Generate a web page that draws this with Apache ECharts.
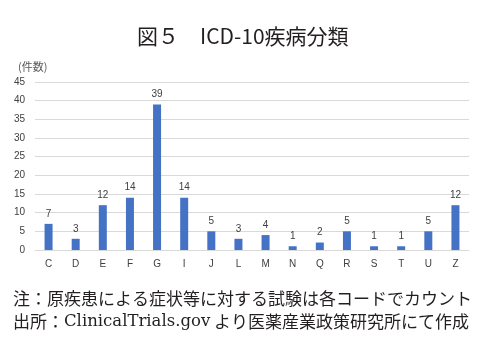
<!DOCTYPE html>
<html><head><meta charset="utf-8">
<script src="https://cdn.jsdelivr.net/npm/echarts@6/dist/echarts.min.js"></script>
<style>html,body{margin:0;padding:0;background:#fff}#c{width:500px;height:353px}</style>
</head><body><div id="c"></div>
<script>
const categories = ['C','D','E','F','G','I','J','L','M','N','Q','R','S','T','U','Z'];
const counts = [7,3,12,14,39,14,5,3,4,1,2,5,1,1,5,12];
const yTicks = [0,5,10,15,20,25,30,35,40,45];
const titleText = '図５　ICD-10疾病分類';
const unitText = '(件数)';
const noteLines = ['注：原疾患による症状等に対する試験は各コードでカウント', '出所：ClinicalTrials.gov より医薬産業政策研究所にて作成'];

const latin = 'ClinicalTrials.gov';
const line2Rich = noteLines[1].replace(latin, '{lat|' + latin + '}');

const chart = echarts.init(document.getElementById('c'), null, {renderer:'canvas'});
chart.setOption({
  animation:false,
  backgroundColor:'#fff',
  title:[{text:titleText, left:132, top:21, textStyle:{fontFamily:'Noto Sans CJK JP', fontSize:21, fontWeight:'normal', color:'#231f20'}}],
  graphic:[
    {type:'text', left:18, top:61, style:{text:unitText, fontFamily:'Noto Sans CJK JP', fontSize:11, fill:'#595959'}},
    {type:'text', left:13, top:290, style:{text:noteLines[0], fontFamily:'Noto Sans CJK JP', fontSize:17, fill:'#231f20'}},
    {type:'text', left:13, top:313, style:{text:line2Rich, fontFamily:'Noto Sans CJK JP', fontSize:17, fill:'#231f20',
      rich:{lat:{fontFamily:'DejaVu Serif', fontSize:16.5, fill:'#231f20', color:'#231f20'}}}}
  ],
  grid:{left:35, right:31, top:82, bottom:103},
  xAxis:{type:'category', data:categories, axisTick:{show:false},
    axisLine:{lineStyle:{color:'#d9d9d9'}},
    axisLabel:{color:'#404040', fontSize:10, margin:9, fontFamily:'Liberation Sans'}},
  yAxis:{type:'value', min:yTicks[0], max:yTicks[yTicks.length-1], interval:5,
    axisLabel:{color:'#404040', fontSize:10, margin:10, fontFamily:'Liberation Sans'},
    splitLine:{lineStyle:{color:'#d9d9d9'}}, axisLine:{show:false}, axisTick:{show:false}},
  series:[{type:'bar', data:counts, barWidth:8, itemStyle:{color:'#4472c4'},
    label:{show:true, position:'top', color:'#404040', fontSize:10, distance:5, fontFamily:'Liberation Sans'}}]
});
</script></body></html>
